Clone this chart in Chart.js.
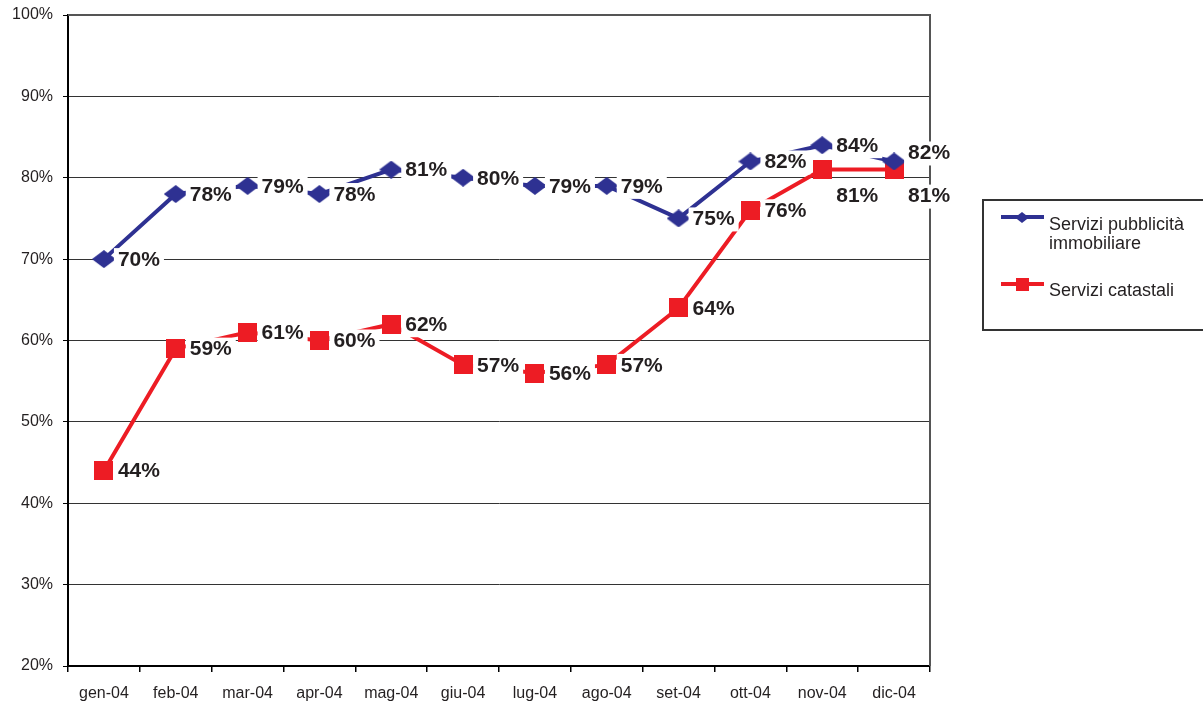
<!DOCTYPE html>
<html>
<head>
<meta charset="utf-8">
<script src="https://cdn.jsdelivr.net/npm/chart.js@4"></script>
<style>
  html, body { margin: 0; padding: 0; background: #fff; }
  canvas { display: block; }
</style>
</head>
<body>
<canvas id="chart" width="1203" height="702"></canvas>
<script>
var months = ["gen-04", "feb-04", "mar-04", "apr-04", "mag-04", "giu-04",
              "lug-04", "ago-04", "set-04", "ott-04", "nov-04", "dic-04"];
var pubblicita = [70, 78, 79, 78, 81, 80, 79, 79, 75, 82, 84, 82];
var catastali = [44, 59, 61, 60, 62, 57, 56, 57, 64, 76, 81, 81];
var seriesNames = ["Servizi pubblicità immobiliare", "Servizi catastali"];

var BLUE = "#2e3192";
var RED = "#ed1c24";
var INK = "#231f20";
var FONT = '"Liberation Sans", Arial, sans-serif';

// marker images: a wide diamond and a square
function diamond(w, h, color) {
    var c = document.createElement("canvas");
    c.width = w; c.height = h;
    var g = c.getContext("2d");
    g.fillStyle = color;
    g.beginPath();
    g.moveTo(w / 2, 0);
    g.lineTo(w, h / 2);
    g.lineTo(w / 2, h);
    g.lineTo(0, h / 2);
    g.closePath();
    g.fill();
    return c;
}
function square(s, color) {
    var c = document.createElement("canvas");
    c.width = s; c.height = s;
    var g = c.getContext("2d");
    g.fillStyle = color;
    g.fillRect(0, 0, s, s);
    return c;
}

// top and right edges of the plot frame
var plotFrame = {
    id: "plotFrame",
    beforeDatasetsDraw: function (chart) {
        var a = chart.chartArea, ctx = chart.ctx;
        ctx.save();
        ctx.strokeStyle = "#555";
        ctx.lineWidth = 2;
        ctx.beginPath();
        ctx.moveTo(a.left, a.top);
        ctx.lineTo(a.right, a.top);
        ctx.lineTo(a.right, a.bottom);
        ctx.stroke();
        ctx.restore();
    }
};

// value labels on white boxes, right of each point
var valueLabels = {
    id: "valueLabels",
    afterDatasetsDraw: function (chart, args, opts) {
        var ctx = chart.ctx;
        var items = [];
        ctx.save();
        ctx.font = "bold 21px " + FONT;
        chart.data.datasets.forEach(function (ds, di) {
            var shifts = opts.shifts[di] || {};
            chart.getDatasetMeta(di).data.forEach(function (pt, i) {
                var txt = ds.data[i] + "%";
                items.push({
                    txt: txt,
                    x: pt.x + 14,
                    y: pt.y + 1 + (shifts[i] || 0),
                    w: ctx.measureText(txt).width
                });
            });
        });
        ctx.fillStyle = "#fff";
        items.forEach(function (it) {
            ctx.fillRect(it.x - 4, it.y - 12, it.w + 8, 24);
        });
        ctx.fillStyle = INK;
        ctx.textAlign = "left";
        ctx.textBaseline = "middle";
        items.forEach(function (it) {
            ctx.fillText(it.txt, it.x, it.y);
        });
        ctx.restore();
    }
};

// boxed legend at the right side
var boxLegend = {
    id: "boxLegend",
    afterDraw: function (chart) {
        var ctx = chart.ctx;
        ctx.save();
        ctx.strokeStyle = "#333";
        ctx.lineWidth = 2;
        ctx.strokeRect(983, 200, 240, 130);

        ctx.lineWidth = 4;
        ctx.strokeStyle = BLUE;
        ctx.beginPath(); ctx.moveTo(1001, 217); ctx.lineTo(1044, 217); ctx.stroke();
        ctx.drawImage(diamond(14, 11, BLUE), 1015, 212);

        ctx.strokeStyle = RED;
        ctx.beginPath(); ctx.moveTo(1001, 284); ctx.lineTo(1044, 284); ctx.stroke();
        ctx.drawImage(square(13, RED), 1016, 278);

        ctx.fillStyle = INK;
        ctx.font = "18px " + FONT;
        ctx.textAlign = "left";
        ctx.textBaseline = "alphabetic";
        ctx.fillText("Servizi pubblicità", 1049, 230);
        ctx.fillText("immobiliare", 1049, 249);
        ctx.fillText(seriesNames[1], 1049, 296);
        ctx.restore();
    }
};

var ctx = document.getElementById("chart").getContext("2d");
var chart = new Chart(ctx, {
    type: "line",
    data: {
        labels: months,
        datasets: [
            {
                label: seriesNames[0],
                data: pubblicita,
                borderColor: BLUE,
                borderWidth: 4,
                pointStyle: diamond(24, 18, BLUE),
                tension: 0,
                fill: false
            },
            {
                label: seriesNames[1],
                data: catastali,
                borderColor: RED,
                borderWidth: 4,
                pointStyle: square(19, RED),
                tension: 0,
                fill: false
            }
        ]
    },
    options: {
        responsive: false,
        animation: false,
        events: [],
        layout: { padding: { left: 0, top: 15, right: 273, bottom: 0 } },
        plugins: {
            legend: { display: false },
            tooltip: { enabled: false },
            valueLabels: { shifts: { 0: { 11: -9 }, 1: { 10: 26, 11: 26 } } }
        },
        scales: {
            x: {
                offset: true,
                grid: {
                    offset: true,
                    drawOnChartArea: false,
                    tickLength: 6,
                    tickColor: "#000",
                    lineWidth: 1.5
                },
                border: { color: "#000", width: 2 },
                ticks: {
                    color: INK,
                    font: { family: FONT, size: 16 },
                    padding: 12,
                    autoSkip: false,
                    maxRotation: 0
                },
                afterFit: function (s) { s.height = 36; }
            },
            y: {
                min: 20,
                max: 100,
                grid: {
                    color: "#333",
                    lineWidth: 1,
                    tickLength: 5,
                    tickColor: "#000"
                },
                border: { color: "#000", width: 2 },
                ticks: {
                    stepSize: 10,
                    color: INK,
                    font: { family: FONT, size: 16 },
                    padding: 10,
                    callback: function (v) { return v + "%"; }
                },
                afterFit: function (s) {
                    s.width = 68;
                    s.paddingTop = 0;
                    s.paddingBottom = 0;
                }
            }
        }
    },
    plugins: [plotFrame, valueLabels, boxLegend]
});
</script>
</body>
</html>
